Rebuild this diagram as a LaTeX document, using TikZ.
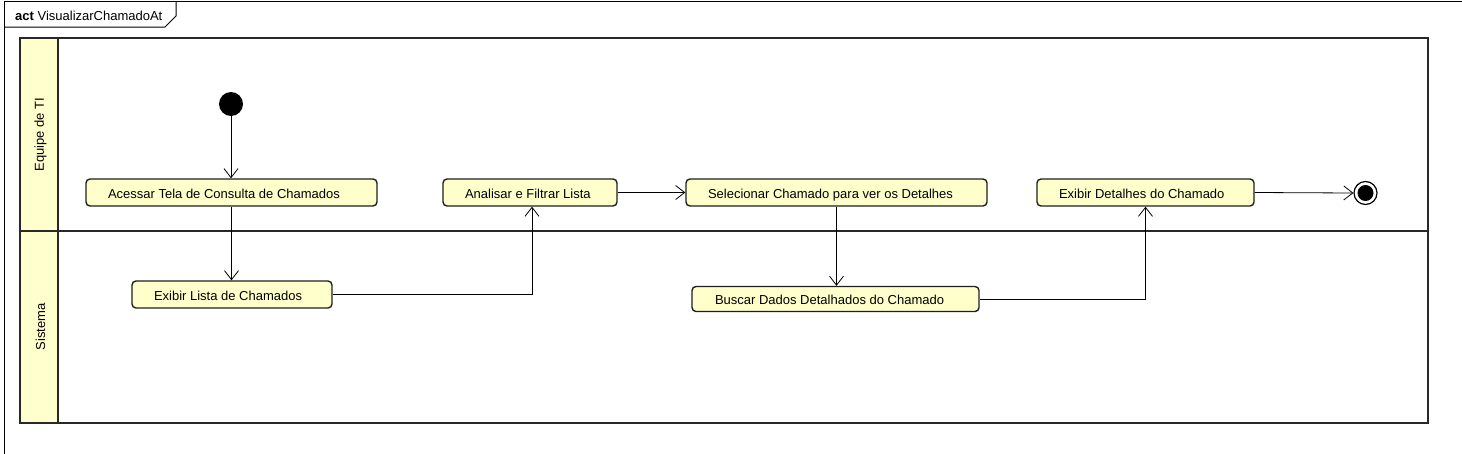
\documentclass[tikz,border=0pt]{standalone}
\usepackage{fontspec}
\setmainfont{Liberation Sans}
\usetikzlibrary{arrows.meta,calc}
\definecolor{actfill}{RGB}{255,255,204}
\definecolor{lanefill}{RGB}{255,255,206}
\definecolor{lanedraw}{RGB}{40,40,40}
\begin{document}
\begin{tikzpicture}[x=1pt,y=-1pt,
  txt/.style={font=\fontsize{13}{15}\selectfont},
  act/.style={txt, draw=black!88, line width=1.4pt, fill=actfill, rounded corners=4pt,
              inner sep=0pt, minimum height=27, text height=11.5pt, text depth=0.5pt},
  flow/.style={line width=0.8pt, -{Straight Barb[length=9pt,width=14pt,line width=0.8pt]}},
  lane/.style={draw=lanedraw, line width=2pt},
  frameline/.style={draw=black, line width=1pt}]
\useasboundingbox (0,0) rectangle (1462,453);
% frame
\draw[frameline] (4,470) -- (4,1) -- (1480,1);
\draw[frameline] (4,27) -- (165,27) -- (176,16) -- (176,1);
\node[txt, anchor=base west, inner sep=0pt] (title) at (15,20.5) {\textbf{act} VisualizarChamadoAt};
% swimlanes
\fill[lanefill] (20,38) rectangle (58,423);
\draw[lane] (20,38) rectangle (1428,423);
\draw[lane] (58,38) -- (58,423);
\draw[lane] (20,231) -- (1428,231);
\node[txt, rotate=90] (lane1) at (40.5,134.5) {Equipe de TI};
\node[txt, rotate=90] (lane2) at (40.5,327) {Sistema};
% nodes
\node[circle, fill=black, minimum size=24, inner sep=0pt] (init) at (231,104) {};
\node[act, minimum width=291] (a1) at (231.5,192.5) {\makebox[291pt][l]{\hspace{22pt}Acessar Tela de Consulta de Chamados}};
\node[act, minimum width=200] (a2) at (232,294.5) {\makebox[200pt][l]{\hspace{22pt}Exibir Lista de Chamados}};
\node[act, minimum width=174] (a3) at (530,192.5) {\makebox[174pt][l]{\hspace{22pt}Analisar e Filtrar Lista}};
\node[act, minimum width=301] (a4) at (836.5,192.5) {\makebox[301pt][l]{\hspace{22pt}Selecionar Chamado para ver os Detalhes}};
\node[act, minimum width=287, minimum height=25] (a5) at (835.5,299) {\makebox[287pt][l]{\hspace{23pt}Buscar Dados Detalhados do Chamado}};
\node[act, minimum width=217] (a6) at (1145.5,192.5) {\makebox[217pt][l]{\hspace{22pt}Exibir Detalhes do Chamado}};
\node[circle, draw=black, line width=1.2pt, fill=white, minimum size=23, inner sep=0pt] (fin) at (1365.5,193) {};
\node[circle, fill=black, minimum size=16, inner sep=0pt] (finin) at (fin) {};
% connectors
\draw[flow] (init) -- (init |- a1.north);
\draw[flow] (a1.south) -- (a1.south |- a2.north);
\draw[flow] (a2.east) -| ([xshift=2pt]a3.south);
\draw[flow] (a3.east) -- (a4.west);
\draw[flow] (a4.south) -- (a4.south |- a5.north);
\draw[flow] (a5.east) -| (a6.south);
\draw[flow] (a6.east) -- (fin.west);
\end{tikzpicture}
\end{document}
